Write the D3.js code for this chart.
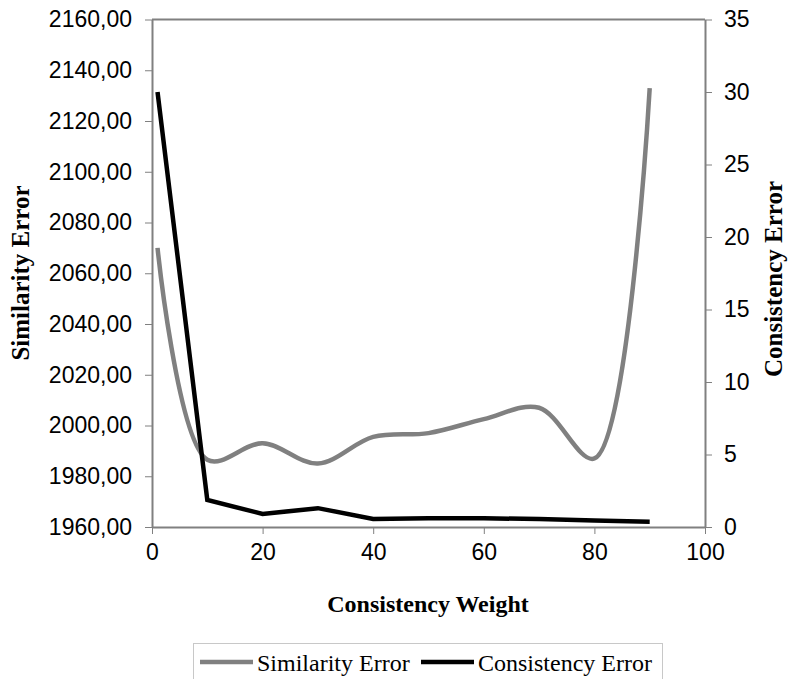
<!DOCTYPE html>
<html>
<head>
<meta charset="utf-8">
<script src="https://cdn.jsdelivr.net/npm/d3@7"></script>
<style>
  body { margin: 0; background: #fff; }
</style>
</head>
<body>
<script>
// chart values
const weights = [1, 10, 20, 30, 40, 50, 60, 70, 80, 90];
const similarityError = [2070, 1986.5, 1993, 1985, 1995.5, 1997, 2002.5, 2007, 1987, 2133];
const consistencyError = [30.0, 1.86, 0.9, 1.3, 0.55, 0.6, 0.6, 0.55, 0.45, 0.37];
const leftTicks = [1960, 1980, 2000, 2020, 2040, 2060, 2080, 2100, 2120, 2140, 2160];
const rightTicks = [0, 5, 10, 15, 20, 25, 30, 35];
const xTicks = [0, 20, 40, 60, 80, 100];

const width = 788, height = 679;
const margin = { top: 19.5, right: 83, bottom: 152, left: 152 };
const axisGrey = "#808080";

const svg = d3.select("body").append("svg")
  .attr("width", width)
  .attr("height", height);

const x = d3.scaleLinear().domain([0, 100]).range([margin.left, width - margin.right]);
const yL = d3.scaleLinear().domain([1960, 2160]).range([height - margin.bottom, margin.top]);
const yR = d3.scaleLinear().domain([0, 35]).range([height - margin.bottom, margin.top]);

const fmt = d3.format(".2f");
const comma = (d) => fmt(d).replace(".", ",");

// plot frame (top edge)
svg.append("line")
  .attr("x1", x(0)).attr("x2", x(100))
  .attr("y1", yL(2160)).attr("y2", yL(2160))
  .attr("stroke", axisGrey).attr("stroke-width", 2);

const styleAxis = (g) => {
  g.select(".domain").attr("stroke", axisGrey).attr("stroke-width", 2);
  g.selectAll(".tick line").attr("stroke", axisGrey).attr("stroke-width", 1);
  g.selectAll(".tick text")
    .attr("fill", "#000")
    .style("font-family", "'Liberation Sans', Arial, sans-serif")
    .style("font-size", "23px");
};

svg.append("g")
  .attr("transform", `translate(0,${yL(1960)})`)
  .call(d3.axisBottom(x).tickValues(xTicks).tickSize(7).tickSizeOuter(0).tickPadding(10))
  .call(styleAxis);

svg.append("g")
  .attr("transform", `translate(${x(0)},0)`)
  .call(d3.axisLeft(yL).tickValues(leftTicks).tickFormat(comma).tickSize(7).tickSizeOuter(0).tickPadding(13))
  .call(styleAxis);

svg.append("g")
  .attr("transform", `translate(${x(100)},0)`)
  .call(d3.axisRight(yR).tickValues(rightTicks).tickSize(7).tickSizeOuter(0).tickPadding(12))
  .call(styleAxis);

// series
const simLine = d3.line()
  .x((d, i) => x(weights[i]))
  .y((d) => yL(d))
  .curve(d3.curveCatmullRom.alpha(0.5));

const conLine = d3.line()
  .x((d, i) => x(weights[i]))
  .y((d) => yR(d));

svg.append("path")
  .datum(similarityError)
  .attr("d", simLine)
  .attr("fill", "none")
  .attr("stroke", "#808080")
  .attr("stroke-width", 4.5);

svg.append("path")
  .datum(consistencyError)
  .attr("d", conLine)
  .attr("fill", "none")
  .attr("stroke", "#000")
  .attr("stroke-width", 4.5);

// axis titles
const titleFont = "'Liberation Serif', 'Times New Roman', serif";
svg.append("text")
  .attr("x", 428)
  .attr("y", 612)
  .attr("text-anchor", "middle")
  .style("font-family", titleFont)
  .style("font-weight", "bold")
  .style("font-size", "24px")
  .text("Consistency Weight");

svg.append("text")
  .attr("transform", "translate(29,273) rotate(-90)")
  .attr("text-anchor", "middle")
  .style("font-family", titleFont)
  .style("font-weight", "bold")
  .style("font-size", "25px")
  .text("Similarity Error");

svg.append("text")
  .attr("transform", "translate(782,279) rotate(-90)")
  .attr("text-anchor", "middle")
  .style("font-family", titleFont)
  .style("font-weight", "bold")
  .style("font-size", "25px")
  .text("Consistency Error");

// legend
const legend = svg.append("g");
legend.append("rect")
  .attr("x", 193.5).attr("y", 643.5)
  .attr("width", 469).attr("height", 50)
  .attr("fill", "#fff")
  .attr("stroke", "#c8c8c8");

const legendItems = [
  { label: "Similarity Error", color: "#808080", x: 200 },
  { label: "Consistency Error", color: "#000", x: 421 }
];

legend.selectAll("g.item")
  .data(legendItems)
  .join("g")
  .attr("class", "item")
  .each(function (d) {
    const g = d3.select(this);
    g.append("line")
      .attr("x1", d.x).attr("x2", d.x + 53)
      .attr("y1", 662).attr("y2", 662)
      .attr("stroke", d.color)
      .attr("stroke-width", 4.5);
    g.append("text")
      .attr("x", d.x + 57)
      .attr("y", 671)
      .style("font-family", titleFont)
      .style("font-size", "24px")
      .text(d.label);
  });
</script>
</body>
</html>
